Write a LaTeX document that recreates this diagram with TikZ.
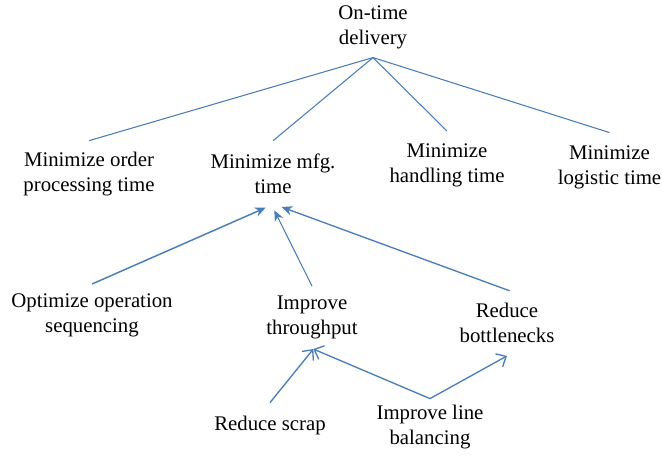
\documentclass[tikz,border=0pt]{standalone}
\usepackage{fontspec}
\setmainfont{Liberation Serif}
\usetikzlibrary{arrows.meta}

\definecolor{linkblue}{HTML}{4A7EBB}

\begin{document}
\begin{tikzpicture}[
  x=0.75pt,
  y=-0.75pt,
  goal/.style={align=center, inner sep=0pt,
    font=\fontsize{15.6pt}{18.75pt}\selectfont},
  link/.style={linkblue, line width=0.8pt},
  upward/.style={link, -{Stealth[length=8pt,width=7pt]}},
  feeds/.style={link, line width=1pt, -{Straight Barb[length=6pt,width=11pt]}}
]

  % Page frame, same size as the reference.
  \useasboundingbox (0,0) rectangle (662,455);

  % Top goal and the four sub-goals.
  \node[goal] (ontime) at (373,27) {On-time\\delivery};
  \node[goal] (order) at (89,174.5) {Minimize order\\processing time};
  \node[goal] (mfg) at (273,173.5) {Minimize mfg.\\time};
  \node[goal] (handling) at (447,165.5) {Minimize\\handling time};
  \node[goal] (logistic) at (609.5,167) {Minimize\\logistic time};

  \draw[link] ([yshift=-6.5pt]ontime.south) -- ([yshift=8.7pt]order.north);
  \draw[link] ([yshift=-6.5pt]ontime.south) -- ([yshift=9.4pt]mfg.north);
  \draw[link] ([yshift=-6.5pt]ontime.south) -- ([yshift=9.4pt]handling.north);
  \draw[link] ([yshift=-6.5pt]ontime.south) -- ([yshift=9.4pt]logistic.north);

  % Means for reducing manufacturing time.
  \node[goal] (sequencing) at (92,315.5) {Optimize operation\\sequencing};
  \node[goal] (throughput) at (312,317.5) {Improve\\throughput};
  \node[goal] (bottlenecks) at (507,322.5) {Reduce\\bottlenecks};

  \draw[upward, line width=1.1pt] ([yshift=7.2pt]sequencing.north)
    -- ([xshift=-5.5pt,yshift=-10.5pt]mfg.south);
  \draw[upward] ([yshift=7.2pt]throughput.north)
    -- ([xshift=1pt,yshift=-12.5pt]mfg.south);
  \draw[upward, line width=1pt] ([xshift=2pt,yshift=8.7pt]bottlenecks.north)
    -- ([xshift=6.5pt,yshift=-10pt]mfg.south);

  % Lowest level.
  \node[goal] (scrap) at (270,425) {Reduce scrap};
  \node[goal] (balancing) at (430,427.5) {Improve line\\balancing};

  \draw[feeds] ([yshift=9.5pt]scrap.north)
    -- ([xshift=1pt,yshift=-7.3pt]throughput.south);
  \draw[feeds] ([yshift=5pt]balancing.north)
    -- ([xshift=1pt,yshift=-7.3pt]throughput.south);
  \draw[feeds] ([yshift=5pt]balancing.north)
    -- ([yshift=-10pt]bottlenecks.south);

\end{tikzpicture}
\end{document}
